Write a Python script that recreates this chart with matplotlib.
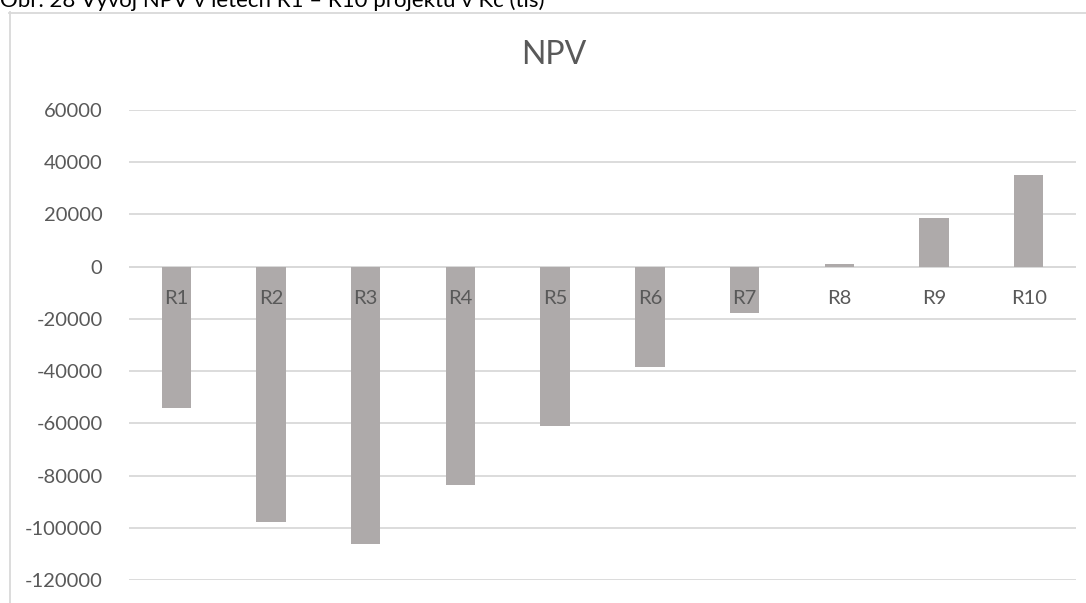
import matplotlib
matplotlib.use("Agg")
import matplotlib.pyplot as plt
from matplotlib.lines import Line2D

plt.rcParams['font.family'] = ['Lato', 'DejaVu Sans']

categories = ["R1", "R2", "R3", "R4", "R5", "R6", "R7", "R8", "R9", "R10"]
npv = [-54300, -97800, -106400, -83700, -61000, -38600, -17900, 1200, 18800, 35100]
yticks = [60000, 40000, 20000, 0, -20000, -40000, -60000, -80000, -100000, -120000]

W, H = 1086, 603
fig = plt.figure(figsize=(W / 100, H / 100), dpi=100)
fig.patch.set_facecolor("white")

# chart frame (top and left edges visible)
fig.add_artist(Line2D([9.5 / W, 9.5 / W], [0, 1 - 12 / H], color="#d9d9d9", lw=1.3))
fig.add_artist(Line2D([9 / W, 1], [1 - 12.5 / H, 1 - 12.5 / H], color="#d9d9d9", lw=1.3))

# caption above the chart
fig.text(0 / W, 1 - 7 / H, "Obr. 28 Vývoj NPV v letech R1 – R10 projektu v Kč (tis)",
         fontsize=16, color="#000000", ha="left", va="baseline")

left, right = 129 / W, 1076 / W
bottom, top = 1 - 580 / H, 1 - 110 / H
ax = fig.add_axes([left, bottom, right - left, top - bottom])
ax.set_facecolor("none")

x = list(range(len(categories)))
ax.bar(x, npv, width=0.31, color="#aeaaaa", zorder=3)

ax.set_xlim(-0.5, len(categories) - 0.5)
ax.set_ylim(-120000, 60000)
ax.set_yticks(yticks)
ax.set_yticklabels([str(v) for v in yticks])
ax.yaxis.grid(True, color="#d9d9d9", lw=1.3, zorder=0)
ax.set_axisbelow(True)

for s in ["top", "right", "left", "bottom"]:
    ax.spines[s].set_visible(False)
ax.axhline(0, color="#d9d9d9", lw=1.3, zorder=1)

# category labels sit just below the zero line, over the bars
ax.set_xticks([])
for xi, name in zip(x, categories):
    ax.annotate(name, (xi, 0), xytext=(0, -23), textcoords="offset points",
                ha="center", va="center", fontsize=14.5, color="#595959", zorder=5)
ax.tick_params(axis="y", length=0, pad=19, labelsize=14.5, labelcolor="#595959")

fig.text(554 / W, 1 - 55 / H, "NPV", fontsize=23, color="#595959", ha="center", va="center")

fig.savefig("out.png", dpi=100)
